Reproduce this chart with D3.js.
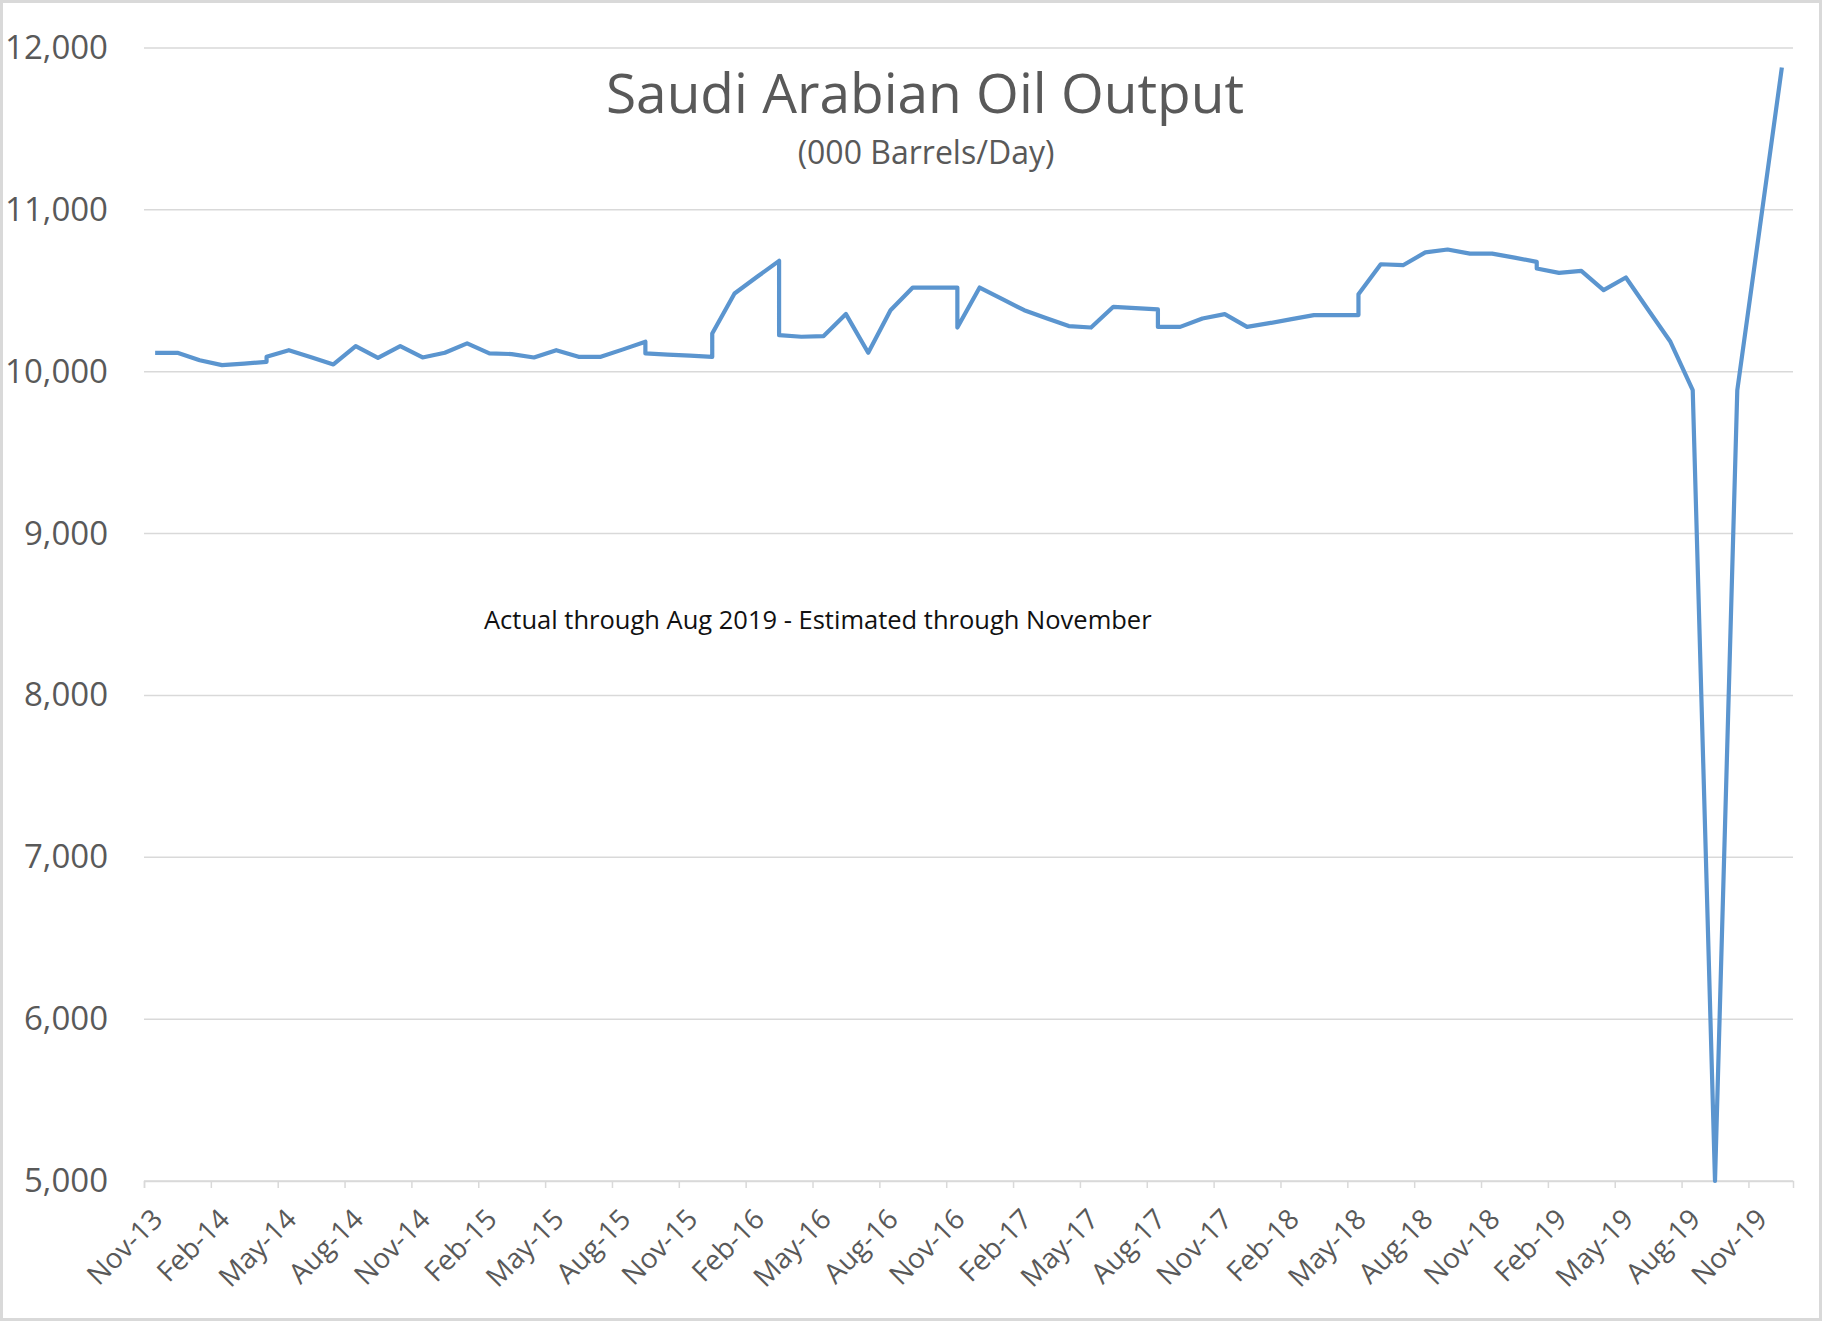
<!DOCTYPE html>
<html>
<head>
<meta charset="utf-8">
<script src="https://cdnjs.cloudflare.com/ajax/libs/d3/7.8.5/d3.min.js"></script>
<style>
  body { margin: 0; background: #fff; }
  text { font-family: "Open Sans", "Noto Sans", sans-serif; }
</style>
</head>
<body>
<svg width="1826" height="1324"></svg>
<script>
// months may repeat: a repeated month is a revised value (draws a vertical step)
var months = [
  "2013-11", "2013-12", "2014-01", "2014-02", "2014-03", "2014-04", "2014-04", "2014-05", "2014-06", "2014-07",
  "2014-08", "2014-09", "2014-10", "2014-11", "2014-12", "2015-01", "2015-02", "2015-03", "2015-04", "2015-05",
  "2015-06", "2015-07", "2015-08", "2015-09", "2015-09", "2015-10", "2015-11", "2015-12", "2015-12", "2016-01",
  "2016-02", "2016-03", "2016-03", "2016-04", "2016-05", "2016-06", "2016-07", "2016-08", "2016-09", "2016-10",
  "2016-11", "2016-11", "2016-12", "2017-01", "2017-02", "2017-03", "2017-04", "2017-05", "2017-06", "2017-07",
  "2017-08", "2017-08", "2017-09", "2017-10", "2017-11", "2017-12", "2018-01", "2018-02", "2018-03", "2018-04",
  "2018-05", "2018-05", "2018-06", "2018-07", "2018-08", "2018-09", "2018-10", "2018-11", "2018-12", "2019-01",
  "2019-01", "2019-02", "2019-03", "2019-04", "2019-05", "2019-06", "2019-07", "2019-08", "2019-09", "2019-10",
  "2019-11", "2019-12"
];

var output = [
  10117, 10117, 10071, 10041, 10050, 10061, 10092, 10133, 10090, 10045,
  10158, 10086, 10158, 10088, 10117, 10175, 10113, 10109, 10088, 10133,
  10092, 10092, 10138, 10185, 10113, 10106, 10099, 10092, 10236, 10483,
  10585, 10685, 10226, 10216, 10220, 10356, 10117, 10380, 10520, 10520,
  10520, 10273, 10520, 10450, 10380, 10330, 10282, 10273, 10401, 10393,
  10385, 10277, 10277, 10329, 10356, 10277, 10300, 10325, 10350, 10350,
  10350, 10479, 10664, 10658, 10737, 10755, 10730, 10730, 10705, 10679,
  10638, 10611, 10623, 10504, 10582, 10383, 10185, 9886, 5000, 9886,
  10880, 11880
];

var yTicks = [5000, 6000, 7000, 8000, 9000, 10000, 11000, 12000];
var firstMonth = "2013-11",
    monthCount = 74,
    labelStep = 3;

var title = "Saudi Arabian Oil Output",
    subtitle = "(000 Barrels/Day)",
    note = "Actual through Aug 2019 - Estimated through November";

var svg = d3.select("svg"),
    margin = {top: 48, right: 33, bottom: 143, left: 144},
    width = +svg.attr("width") - margin.left - margin.right,
    height = +svg.attr("height") - margin.top - margin.bottom;

var parseMonth = d3.timeParse("%Y-%m"),
    formatMonth = d3.timeFormat("%b-%y"),
    start = parseMonth(firstMonth);

var data = months.map(function(m, i) {
  return {i: d3.timeMonth.count(start, parseMonth(m)), v: output[i]};
});

var x = d3.scaleLinear().domain([0, monthCount]).range([0, width]),
    y = d3.scaleLinear().domain([5000, 12000]).range([height, 0]);

// chart frame
svg.append("rect")
    .attr("x", 1.5).attr("y", 1.5)
    .attr("width", 1819).attr("height", 1318)
    .attr("fill", "#fff")
    .attr("stroke", "#d9d9d9")
    .attr("stroke-width", 3);

var g = svg.append("g")
    .attr("transform", "translate(" + margin.left + "," + margin.top + ")");

g.append("g")
    .attr("class", "grid")
    .selectAll("line")
    .data(yTicks)
    .enter().append("line")
    .attr("x1", 0)
    .attr("x2", width)
    .attr("y1", function(d) { return y(d); })
    .attr("y2", function(d) { return y(d); })
    .attr("stroke", "#d9d9d9")
    .attr("stroke-width", 1.5);

var yAxis = d3.axisLeft(y)
    .tickValues(yTicks)
    .tickFormat(d3.format(","))
    .tickSize(0)
    .tickPadding(36);

var yAxisGroup = g.append("g").call(yAxis);
yAxisGroup.select(".domain").remove();
yAxisGroup.selectAll("text")
    .attr("fill", "#595959")
    .style("font-size", "33px");

var xAxis = d3.axisBottom(x)
    .tickValues(d3.range(0, monthCount - 1, labelStep))
    .tickFormat(function(d) { return formatMonth(d3.timeMonth.offset(start, d)); })
    .tickSizeOuter(0)
    .tickSize(7);

var xAxisGroup = g.append("g")
    .attr("transform", "translate(0," + height + ")")
    .call(xAxis);
xAxisGroup.select(".domain").attr("stroke", "#d9d9d9").attr("stroke-width", 1.5);
xAxisGroup.selectAll(".tick line").attr("stroke", "#d9d9d9").attr("stroke-width", 1.5);
xAxisGroup.selectAll("text")
    .attr("x", 0)
    .attr("y", 0)
    .attr("dy", "0.35em")
    .attr("transform", "translate(13,33) rotate(-45)")
    .attr("text-anchor", "end")
    .attr("fill", "#595959")
    .style("font-size", "28px");

var line = d3.line()
    .x(function(d) { return x(d.i + 0.5); })
    .y(function(d) { return y(d.v); });

g.append("path")
    .datum(data)
    .attr("fill", "none")
    .attr("stroke", "#5b95cf")
    .attr("stroke-width", 4.2)
    .attr("stroke-linejoin", "round")
    .attr("d", line);

svg.append("text")
    .attr("x", 925)
    .attr("y", 113)
    .attr("text-anchor", "middle")
    .attr("fill", "#595959")
    .style("font-size", "55px")
    .text(title);

svg.append("text")
    .attr("x", 926)
    .attr("y", 164)
    .attr("text-anchor", "middle")
    .attr("fill", "#595959")
    .style("font-size", "32px")
    .text(subtitle);

svg.append("text")
    .attr("x", 484)
    .attr("y", 629)
    .attr("fill", "#111")
    .style("font-size", "25.5px")
    .text(note);
</script>
</body>
</html>
